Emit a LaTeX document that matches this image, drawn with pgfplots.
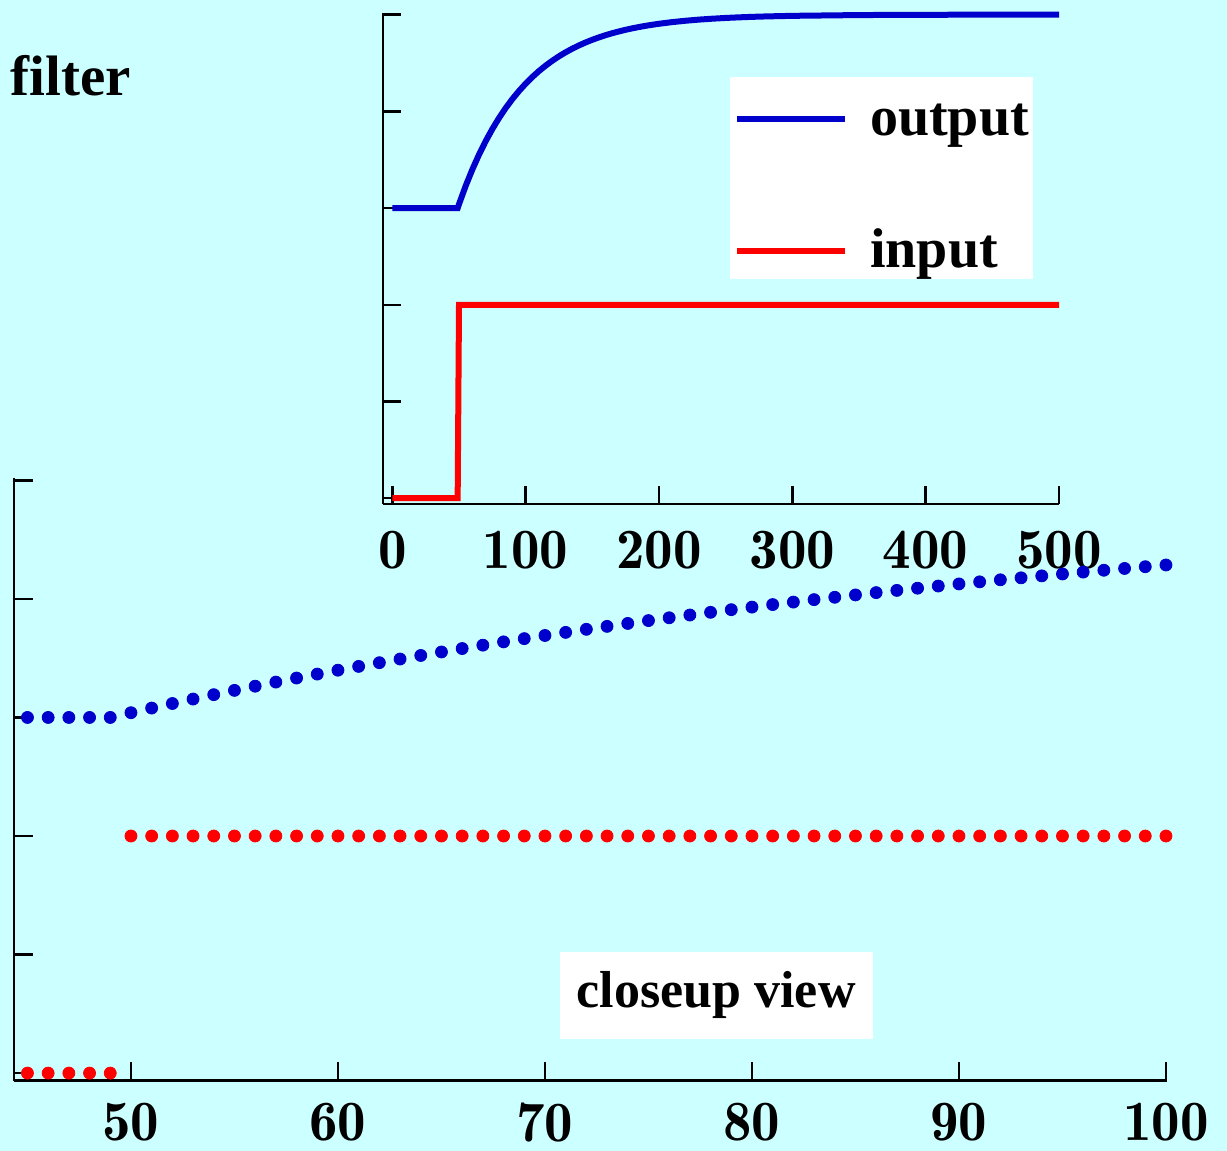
\documentclass[border=0pt]{standalone}
\usepackage{pgfplots}
\pgfplotsset{compat=1.18}
\usepackage{fontspec}
\setmainfont{Liberation Serif}
\newfontfamily\lmdemi{lmromandemi10-regular.otf}
\definecolor{bg}{RGB}{204,255,255}
\definecolor{dblue}{RGB}{0,0,204}
\definecolor{dred}{RGB}{255,0,0}
\newcommand{\txtfont}{\fontsize{26}{30}\selectfont\bfseries}
\newcommand{\legfont}{\fontsize{28}{32}\selectfont\bfseries}
\newcommand{\tickfont}{\lmdemi\fontsize{28.5}{32}\selectfont}
\begin{document}
\begin{tikzpicture}
\fill[bg] (0,0) rectangle (613.5pt,575.5pt);
\node[anchor=base west, inner sep=0pt, font=\fontsize{28.5}{32}\selectfont\bfseries] at (5pt,527.5pt) {filter};
\begin{axis}[
  at={(191.5pt,323.5pt)}, anchor=south west,
  x=0.666667pt, y=96.713pt,
  xmin=-7, xmax=500, ymin=-0.03, ymax=2.51,
  axis lines=left, axis line style={-, line width=1.4pt, black},
  clip=false,
  xtick={0,100,200,300,400,500}, ytick={0,0.5,1,1.5,2,2.5}, yticklabels={},
  tick align=inside, major tick length=9pt,
  tick style={line width=1.2pt, black},
  /pgf/number format/assume math mode=true,
  tick label style={font=\tickfont},
  xticklabel style={yshift=-10pt},
  legend cell align=left,
  legend image code/.code={\draw[#1, line width=3pt] (0pt,-3.5pt) -- (54pt,-3.5pt); \path (65pt,-3.5pt);},
  legend style={at={(0.513,0.869)}, anchor=north west, fill=white, draw=none,
    font=\legfont, inner xsep=2pt, inner ysep=0pt, row sep=31pt,
    nodes={inner sep=0pt, text height=29pt, text depth=6pt}},
]
\addplot[dblue, line width=3pt] coordinates {
(0,1.5) (49,1.5) (50,1.5200) (55,1.6142) (60,1.6993) (65,1.7762) (70,1.8457)
(75,1.9086) (80,1.9654) (85,2.0168) (90,2.0632) (95,2.1052) (100,2.1431)
(105,2.1774) (110,2.2084) (115,2.2364) (120,2.2617) (125,2.2846) (130,2.3053)
(135,2.3240) (140,2.3409) (145,2.3562) (150,2.3700) (155,2.3825) (160,2.3938)
(165,2.4040) (170,2.4132) (175,2.4216) (180,2.4291) (185,2.4359) (190,2.4421)
(195,2.4476) (200,2.4527) (210,2.4613) (220,2.4684) (230,2.4742) (240,2.4789)
(250,2.4828) (260,2.4859) (270,2.4885) (280,2.4906) (300,2.4937) (350,2.4977)
(400,2.4992) (500,2.4999)};
\addlegendentry{output}
\addplot[dred, line width=3pt] coordinates {(0,0) (49,0) (50,1) (500,1)};
\addlegendentry{input}
\end{axis}
\begin{axis}[
  at={(7pt,35.15pt)}, anchor=south west,
  x=10.35pt, y=118.55pt,
  xmin=44.35, xmax=100.05, ymin=-0.032, ymax=2.51,
  axis lines=left, axis line style={-, line width=1.4pt, black},
  clip=false,
  xtick={50,60,70,80,90,100}, ytick={0,0.5,1,1.5,2,2.5}, yticklabels={},
  tick align=inside, major tick length=9.5pt,
  tick style={line width=1.2pt, black},
  /pgf/number format/assume math mode=true,
  tick label style={font=\tickfont},
  xticklabel style={yshift=-7.5pt},
]
\addplot[only marks, mark=*, mark size=3pt, dblue] coordinates {
(45,1.5) (46,1.5) (47,1.5) (48,1.5) (49,1.5) (50,1.5200) (51,1.5396) (52,1.5588)
(53,1.5776) (54,1.5961) (55,1.6142) (56,1.6319) (57,1.6492) (58,1.6663) (59,1.6829)
(60,1.6993) (61,1.7153) (62,1.7310) (63,1.7464) (64,1.7614) (65,1.7762) (66,1.7907)
(67,1.8049) (68,1.8188) (69,1.8324) (70,1.8457) (71,1.8588) (72,1.8717) (73,1.8842)
(74,1.8965) (75,1.9086) (76,1.9204) (77,1.9320) (78,1.9434) (79,1.9545) (80,1.9654)
(81,1.9761) (82,1.9866) (83,1.9969) (84,2.0069) (85,2.0168) (86,2.0265) (87,2.0359)
(88,2.0452) (89,2.0543) (90,2.0632) (91,2.0719) (92,2.0805) (93,2.0889) (94,2.0971)
(95,2.1052) (96,2.1131) (97,2.1208) (98,2.1284) (99,2.1358) (100,2.1431)};
\addplot[only marks, mark=*, mark size=3pt, dred] coordinates {
(45,0) (46,0) (47,0) (48,0) (49,0) (50,1) (51,1) (52,1) (53,1) (54,1) (55,1)
(56,1) (57,1) (58,1) (59,1) (60,1) (61,1) (62,1) (63,1) (64,1) (65,1) (66,1)
(67,1) (68,1) (69,1) (70,1) (71,1) (72,1) (73,1) (74,1) (75,1) (76,1) (77,1)
(78,1) (79,1) (80,1) (81,1) (82,1) (83,1) (84,1) (85,1) (86,1) (87,1) (88,1)
(89,1) (90,1) (91,1) (92,1) (93,1) (94,1) (95,1) (96,1) (97,1) (98,1) (99,1) (100,1)};
\node[fill=white, minimum width=156.5pt, minimum height=43.6pt, font=\txtfont, inner sep=0pt]
  at (rel axis cs:0.609,0.1415) {closeup view};
\end{axis}
\pgfresetboundingbox
\useasboundingbox (0,0) rectangle (613.5pt,575.5pt);
\end{tikzpicture}
\end{document}
